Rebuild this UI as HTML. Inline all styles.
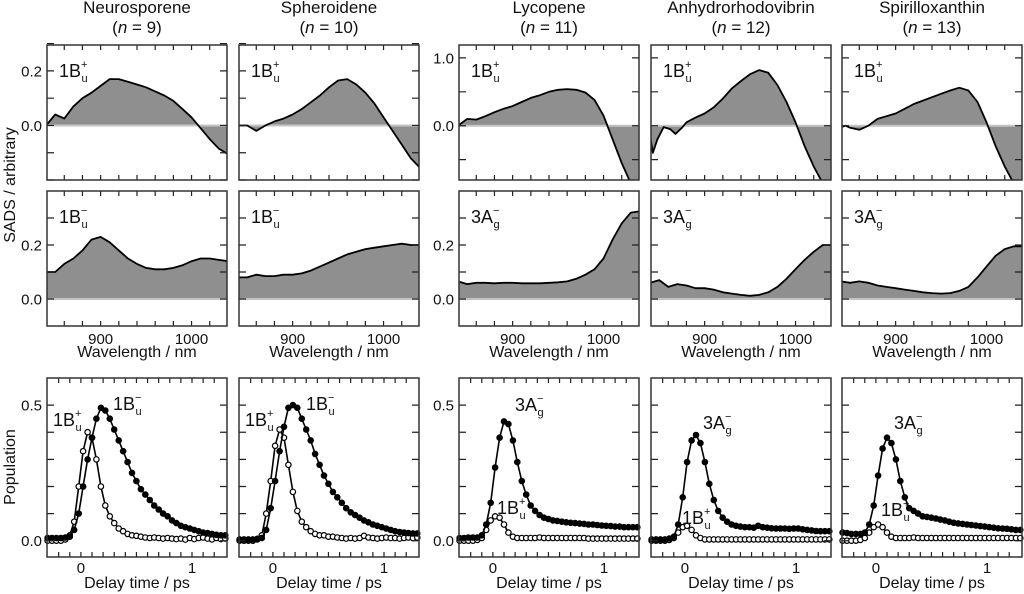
<!DOCTYPE html>
<html><head><meta charset="utf-8"><style>
html,body{margin:0;padding:0;background:#fff;}
svg{display:block;font-family:"Liberation Sans",Arial,sans-serif;}
</style></head><body>
<svg id="fig" width="1024" height="594" viewBox="0 0 1024 594" xmlns="http://www.w3.org/2000/svg"></svg>
<script>
// ---------- data ----------
const wl10 = [840,850,860,870,880,890,900,910,920,930,940,950,960,970,980,990,1000,1010,1020,1030,1040];
const neuroTop = [0.0,0.04,0.025,0.07,0.10,0.12,0.145,0.17,0.17,0.16,0.15,0.14,0.125,0.11,0.09,0.06,0.03,-0.01,-0.05,-0.085,-0.105];
const neuroMid = [0.10,0.10,0.13,0.15,0.18,0.22,0.23,0.21,0.18,0.15,0.13,0.115,0.11,0.11,0.115,0.125,0.14,0.15,0.15,0.145,0.14];
const spheroTop = [0.0,0.0,-0.02,0.0,0.015,0.025,0.04,0.06,0.085,0.11,0.14,0.165,0.17,0.15,0.12,0.08,0.03,-0.02,-0.07,-0.12,-0.155];
const spheroMid = [0.08,0.08,0.09,0.085,0.085,0.09,0.09,0.095,0.105,0.12,0.135,0.15,0.165,0.175,0.185,0.19,0.195,0.2,0.205,0.2,0.2];
const lycoTop = [0.0,0.1,0.09,0.14,0.2,0.25,0.29,0.35,0.41,0.45,0.5,0.53,0.54,0.53,0.49,0.38,0.15,-0.2,-0.55,-0.85,-1.1];
const lycoMid = [0.065,0.055,0.06,0.06,0.058,0.06,0.06,0.058,0.058,0.058,0.06,0.062,0.065,0.075,0.09,0.11,0.15,0.22,0.28,0.32,0.325];
const anhyTopWl = [840,843,848,855,862,868,875,880,890,900,910,920,930,940,950,960,970,980,990,1000,1010,1020,1030,1040];
const anhyTop = [-0.15,-0.4,-0.2,-0.02,-0.05,-0.12,-0.03,0.05,0.12,0.18,0.27,0.4,0.55,0.66,0.76,0.82,0.78,0.6,0.35,0.05,-0.3,-0.6,-0.85,-1.1];
const anhyMid = [0.06,0.07,0.045,0.055,0.05,0.04,0.04,0.035,0.025,0.02,0.015,0.012,0.015,0.025,0.045,0.075,0.11,0.145,0.175,0.2,0.2];
const spiriTopWl = [840,845,850,860,870,880,890,900,910,920,930,940,950,960,970,980,990,1000,1010,1020,1030,1040];
const spiriTop = [-0.02,0.0,-0.03,-0.06,0.0,0.1,0.14,0.18,0.25,0.32,0.37,0.42,0.47,0.52,0.56,0.52,0.35,0.05,-0.3,-0.6,-0.85,-1.1];
const spiriMid = [0.065,0.06,0.065,0.06,0.05,0.045,0.04,0.035,0.03,0.025,0.022,0.02,0.022,0.03,0.045,0.08,0.12,0.16,0.185,0.195,0.195];

const tDelay = [-0.3,-0.26,-0.22,-0.18,-0.14,-0.1,-0.06,-0.02,0.02,0.06,0.1,0.14,0.18,0.22,0.26,0.3,0.34,0.38,0.42,0.46,0.5,0.54,0.58,0.62,0.66,0.7,0.74,0.78,0.82,0.86,0.9,0.94,0.98,1.02,1.06,1.1,1.14,1.18,1.22,1.26,1.3];
const neuroMinus = [0.01,0.01,0.01,0.01,0.012,0.015,0.04,0.1,0.2,0.3,0.38,0.45,0.49,0.48,0.45,0.41,0.37,0.33,0.29,0.25,0.22,0.19,0.17,0.15,0.13,0.115,0.1,0.09,0.075,0.065,0.055,0.05,0.045,0.04,0.035,0.03,0.028,0.025,0.022,0.02,0.02];
const neuroPlus = [0,0,0,0,0.005,0.02,0.07,0.2,0.33,0.4,0.38,0.3,0.2,0.13,0.09,0.065,0.045,0.035,0.025,0.02,0.018,0.015,0.012,0.01,0.012,0.01,0.008,0.01,0.008,0.006,0.008,0.004,0.01,0.006,0.01,0.012,0.008,0.005,0.01,0.006,0.008];
const spheroMinus = [0.005,0.005,0.005,0.005,0.007,0.01,0.04,0.12,0.22,0.33,0.42,0.49,0.5,0.49,0.45,0.41,0.37,0.32,0.28,0.24,0.21,0.18,0.16,0.14,0.12,0.105,0.095,0.085,0.075,0.068,0.06,0.055,0.05,0.045,0.04,0.035,0.032,0.03,0.028,0.027,0.027];
const spheroPlus = [0,0,0,0,0.005,0.02,0.1,0.22,0.35,0.41,0.38,0.28,0.18,0.11,0.07,0.05,0.035,0.025,0.02,0.02,0.015,0.015,0.012,0.01,0.008,0.01,0.008,0.01,0.018,0.012,0.01,0.008,0.01,0.012,0.01,0.01,0.008,0.01,0.012,0.01,0.012];
const lycoMinus = [0.01,0.01,0.012,0.012,0.012,0.02,0.06,0.14,0.27,0.38,0.44,0.43,0.37,0.29,0.22,0.17,0.13,0.11,0.095,0.085,0.08,0.075,0.073,0.07,0.068,0.066,0.065,0.063,0.062,0.06,0.06,0.058,0.056,0.055,0.054,0.052,0.052,0.05,0.05,0.05,0.05];
const lycoPlus = [0,0,0,0,0.003,0.01,0.04,0.075,0.09,0.085,0.06,0.03,0.015,0.01,0.01,0.01,0.01,0.01,0.012,0.01,0.01,0.01,0.01,0.01,0.01,0.01,0.01,0.01,0.01,0.008,0.008,0.008,0.008,0.008,0.008,0.008,0.008,0.008,0.008,0.008,0.008];
const anhyMinus = [0.005,0.005,0.005,0.005,0.008,0.015,0.06,0.16,0.29,0.37,0.39,0.36,0.29,0.21,0.15,0.11,0.085,0.07,0.06,0.055,0.052,0.05,0.05,0.048,0.055,0.05,0.048,0.046,0.045,0.045,0.045,0.044,0.045,0.045,0.042,0.04,0.038,0.036,0.035,0.035,0.035];
const anhyPlus = [0,0,0,0,0.003,0.01,0.03,0.05,0.055,0.04,0.02,0.01,0.005,0.005,0.005,0.005,0.005,0.005,0.005,0.005,0.005,0.005,0.005,0.005,0.005,0.005,0.005,0.005,0.005,0.005,0.005,0.005,0.005,0.005,0.005,0.005,0.005,0.005,0.005,0.005,0.005];
const spiriMinus = [0.03,0.028,0.025,0.025,0.025,0.03,0.06,0.13,0.24,0.34,0.38,0.36,0.3,0.22,0.16,0.12,0.11,0.1,0.09,0.088,0.085,0.082,0.078,0.075,0.07,0.066,0.064,0.062,0.06,0.058,0.056,0.054,0.052,0.05,0.048,0.046,0.045,0.044,0.042,0.04,0.04];
const spiriPlus = [0,0,0,0,0.003,0.01,0.03,0.05,0.06,0.05,0.03,0.015,0.01,0.01,0.01,0.01,0.012,0.01,0.01,0.01,0.01,0.01,0.01,0.01,0.01,0.01,0.01,0.01,0.01,0.01,0.01,0.01,0.01,0.01,0.01,0.01,0.01,0.01,0.01,0.01,0.01];

const titles = ["Neurosporene","Spheroidene","Lycopene","Anhydrorhodovibrin","Spirilloxanthin"];
const chainN = ["9","10","11","12","13"];
const wlTickLabels = [900,1000];
const delayTickLabels = [0,1];

// ---------- layout ----------
const NS="http://www.w3.org/2000/svg";
const svg=document.getElementById('fig');
const colX=[47,239,459,651,842], PW=180;
const rowTop={y0:45,y1:180}, rowMid={y0:191,y1:326}, rowBot={y0:378,y1:557};
function mk(tag,attrs,parent){const e=document.createElementNS(NS,tag);for(const k in attrs)e.setAttribute(k,attrs[k]);(parent||svg).appendChild(e);return e;}
function scale(d0,d1,r0,r1){return v=>r0+(v-d0)*(r1-r0)/(d1-d0);}
let clipId=0;

function frame(g,x0,y0,x1,y1,xs,ys,xticks,yticks){
  const tk=[];
  xticks.forEach(v=>{const x=xs(v);tk.push(`M${x},${y1}v-5M${x},${y0}v5`);});
  yticks.forEach(v=>{const y=ys(v);tk.push(`M${x0},${y}h7M${x1},${y}h-7`);});
  const t=mk('path',{d:tk.join(''),stroke:'#222','stroke-width':1.2,fill:'none'},g);
  
  
  const r=mk('rect',{x:x0,y:y0,width:x1-x0,height:y1-y0,fill:'none',stroke:'#333','stroke-width':1.5},g);
  
  
}
function txt(s,x,y,attrs,g){const t=mk('text',Object.assign({x:x,y:y,'font-size':15,fill:'#111'},attrs||{}),g);t.textContent=s;return t;}
function stateLabel(g,x,y,main,sup,sub){
  const t=mk('text',{x:x,y:y,'font-size':18,fill:'#111'},g);
  
  
  const a=mk('tspan',{},t);a.textContent=main;
  const b=mk('tspan',{'font-size':11,dy:-9},t);b.textContent=sup;
  const c=mk('tspan',{'font-size':11,dx:-6,dy:14},t);c.textContent=sub;
}
function range(a,b,s){const r=[];for(let v=a;v<=b+1e-9;v+=s)r.push(+v.toFixed(4));return r;}

function spectrumPanel(ci,row,wls,vals,ydom,yticks,ylabels,lab){
  const x0=colX[ci],x1=x0+PW,y0=row.y0,y1=row.y1;
  const g=mk('g',{});
  
  
  const xs=scale(841,1039,x0,x1), ys=scale(ydom[0],ydom[1],y1,y0);
  const id='c'+(clipId++);
  const cp=mk('clipPath',{id:id},g);mk('rect',{x:x0,y:y0,width:PW,height:y1-y0},cp);
  const pts=wls.map((w,i)=>xs(w).toFixed(1)+','+ys(vals[i]).toFixed(1));
  const fill=mk('polygon',{points:pts.join(' ')+` ${xs(wls[wls.length-1])},${ys(0)} ${xs(wls[0])},${ys(0)}`,fill:'#8f8f8f','clip-path':`url(#${id})`},g);
  
  
  const zl=mk('line',{x1:x0,x2:x1,y1:ys(0),y2:ys(0),stroke:'#c4c4c4','stroke-width':2},g);
  
  
  const ln=mk('polyline',{points:pts.join(' '),fill:'none',stroke:'#000','stroke-width':1.8,'stroke-linejoin':'round','clip-path':`url(#${id})`},g);
  
  
  frame(g,x0,y0,x1,y1,xs,ys,range(860,1020,20),yticks);
  if(ylabels) ylabels.forEach(v=>{const t=txt(v.toFixed(1),x0-5,ys(v)+5.5,{'text-anchor':'end'},g);});
  if(row===rowMid) wlTickLabels.forEach(v=>{const t=txt(String(v),xs(v),344,{'text-anchor':'middle'},g);});
  stateLabel(g,x0+12,y0+32,lab[0],lab[1],lab[2]);
}

function kineticPanel(ci,filled,open,showY,labs){
  const x0=colX[ci],x1=x0+PW,y0=rowBot.y0,y1=rowBot.y1;
  const g=mk('g',{});
  
  
  const xs=scale(-0.305,1.315,x0,x1), ys=scale(-0.06,0.6,y1,y0);
  [[open,false],[filled,true]].forEach(([ser,isF])=>{
    const pts=tDelay.map((t,i)=>xs(t).toFixed(1)+','+ys(ser[i]).toFixed(1));
    const l=mk('polyline',{points:pts.join(' '),fill:'none',stroke:'#000','stroke-width':1.6},g);
    
    
    tDelay.forEach((t,i)=>{
      const c=mk('circle',{cx:xs(t).toFixed(1),cy:ys(ser[i]).toFixed(1),r:2.7,fill:isF?'#000':'#fff',stroke:'#000','stroke-width':1.2},g);
      
      
    });
  });
  frame(g,x0,y0,x1,y1,xs,ys,range(-0.2,1.2,0.1),range(0,0.5,0.1));
  if(showY)[0,0.5].forEach(v=>{const t=txt(v.toFixed(1),x0-5,ys(v)+5.5,{'text-anchor':'end'},g);});
  delayTickLabels.forEach(v=>{const t=txt(String(v),xs(v),573,{'text-anchor':'middle'},g);});
  const xl=txt('Delay time / ps',x0+PW/2,588,{'text-anchor':'middle','font-size':16},g);
  
  
  labs.forEach(L=>stateLabel(g,L[0],L[1],L[2],L[3],L[4]));
}

// titles
titles.forEach((s,i)=>{
  const cx=colX[i]+PW/2;
  const t=txt(s,cx,13,{'text-anchor':'middle','font-size':17});
  
  
  const t2=mk('text',{x:cx,y:33,'text-anchor':'middle','font-size':17,fill:'#111'});
  
  
  const a=mk('tspan',{},t2);a.textContent='(';
  const b=mk('tspan',{'font-style':'italic'},t2);b.textContent='n';
  const c=mk('tspan',{},t2);c.textContent=' = '+chainN[i]+')';
  const xt=txt('Wavelength / nm',cx,357,{'text-anchor':'middle','font-size':16});
  
  
});

const BP=['1B','+','u'], BM=['1B','\u2212','u'], AG=['3A','\u2212','g'];
const topT1=range(-0.2,0.3,0.1), topT3=range(-0.5,1.0,0.5), midT=range(0,0.3,0.1);
spectrumPanel(0,rowTop,wl10,neuroTop,[-0.2,0.295],topT1,[0,0.2],BP);
spectrumPanel(1,rowTop,wl10,spheroTop,[-0.2,0.295],topT1,null,BP);
spectrumPanel(2,rowTop,wl10,lycoTop,[-0.8,1.19],topT3,[0,1.0],BP);
spectrumPanel(3,rowTop,anhyTopWl,anhyTop,[-0.8,1.19],topT3,null,BP);
spectrumPanel(4,rowTop,spiriTopWl,spiriTop,[-0.8,1.19],topT3,null,BP);
spectrumPanel(0,rowMid,wl10,neuroMid,[-0.1,0.4],midT,[0,0.2],BM);
spectrumPanel(1,rowMid,wl10,spheroMid,[-0.1,0.4],midT,null,BM);
spectrumPanel(2,rowMid,wl10,lycoMid,[-0.1,0.4],midT,[0,0.2],AG);
spectrumPanel(3,rowMid,wl10,anhyMid,[-0.1,0.4],midT,null,AG);
spectrumPanel(4,rowMid,wl10,spiriMid,[-0.1,0.4],midT,null,AG);

kineticPanel(0,neuroMinus,neuroPlus,true,[[53,426,'1B','+','u'],[113,410,'1B','\u2212','u']]);
kineticPanel(1,spheroMinus,spheroPlus,false,[[245,426,'1B','+','u'],[306,410,'1B','\u2212','u']]);
kineticPanel(2,lycoMinus,lycoPlus,true,[[515,411,'3A','\u2212','g'],[497,514,'1B','+','u']]);
kineticPanel(3,anhyMinus,anhyPlus,false,[[703,429,'3A','\u2212','g'],[682,524,'1B','+','u']]);
kineticPanel(4,spiriMinus,spiriPlus,false,[[894,429,'3A','\u2212','g'],[881,516,'1B','+','u']]);

const ya=txt('SADS / arbitrary',0,0,{'text-anchor':'middle','font-size':16,transform:'translate(15,185) rotate(-90)'});


const yp=txt('Population',0,0,{'text-anchor':'middle','font-size':16,transform:'translate(15,467) rotate(-90)'});


</script>
</body></html>
